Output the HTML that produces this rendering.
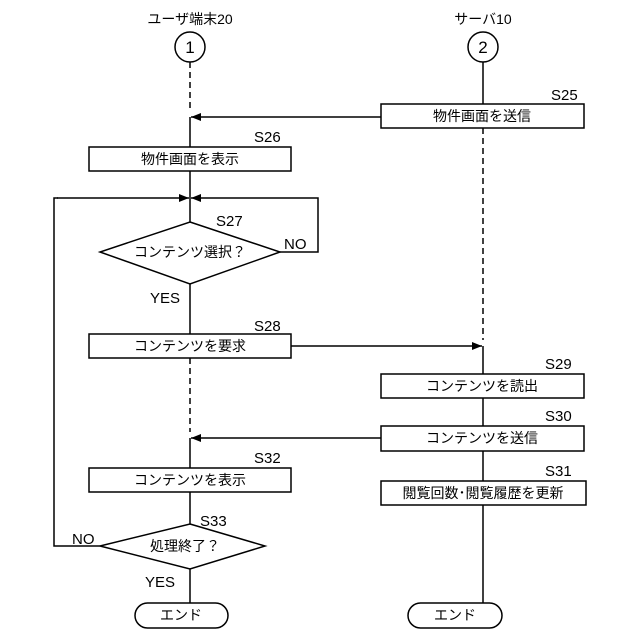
<!DOCTYPE html>
<html><head><meta charset="utf-8"><style>body{margin:0;background:#fff}svg{display:block}text{font-family:"Liberation Sans","Noto Sans CJK JP",sans-serif;fill:#000}</style></head><body>
<svg width="640" height="640" viewBox="0 0 640 640" xmlns="http://www.w3.org/2000/svg">
<defs><marker id="a" markerWidth="10" markerHeight="8" refX="10" refY="4" orient="auto" markerUnits="userSpaceOnUse"><path d="M0,0 L10,4 L0,8 z" fill="#000"/></marker></defs>
<g stroke="#000" stroke-width="1.5" fill="none">
<circle cx="190" cy="47" r="15"/><circle cx="483" cy="47" r="15"/>
<line x1="190" y1="62" x2="190" y2="112" stroke-dasharray="6,4"/>
<line x1="190" y1="117" x2="190" y2="147"/>
<line x1="483" y1="62" x2="483" y2="104"/>
<line x1="483" y1="128" x2="483" y2="340" stroke-dasharray="6,4"/>
<line x1="381" y1="117" x2="191" y2="117" marker-end="url(#a)"/>
<rect x="381" y="104" width="203" height="24" fill="#fff"/>
<rect x="89" y="147" width="202" height="24" fill="#fff"/>
<line x1="190" y1="171" x2="190" y2="222"/>
<line x1="57" y1="198" x2="189" y2="198" marker-end="url(#a)"/>
<polyline points="280,252 318,252 318,198 191,198" marker-end="url(#a)"/>
<polygon points="190,222 280,252 190,284 100,252" fill="#fff"/>
<line x1="190" y1="284" x2="190" y2="334"/>
<rect x="89" y="334" width="202" height="24" fill="#fff"/>
<line x1="291" y1="346" x2="482" y2="346" marker-end="url(#a)"/>
<line x1="483" y1="346" x2="483" y2="374"/>
<line x1="190" y1="358" x2="190" y2="432" stroke-dasharray="6,4"/>
<rect x="381" y="374" width="203" height="24" fill="#fff"/>
<line x1="483" y1="398" x2="483" y2="426"/>
<rect x="381" y="426" width="203" height="25" fill="#fff"/>
<line x1="381" y1="438" x2="191" y2="438" marker-end="url(#a)"/>
<line x1="190" y1="438" x2="190" y2="468"/>
<line x1="483" y1="451" x2="483" y2="481"/>
<rect x="381" y="481" width="205" height="24" fill="#fff"/>
<line x1="483" y1="505" x2="483" y2="603"/>
<rect x="89" y="468" width="202" height="24" fill="#fff"/>
<line x1="190" y1="492" x2="190" y2="524"/>
<polyline points="100,546 54,546 54,198 58,198"/>
<polygon points="190,524 265,546 190,569 100,546" fill="#fff"/>
<line x1="190" y1="569" x2="190" y2="603"/>
<rect x="135" y="603" width="93" height="25" rx="12.5" fill="#fff"/>
<rect x="408" y="603" width="94" height="25" rx="12.5" fill="#fff"/>
</g>
<g font-size="14" text-anchor="middle">
<text x="190" y="24">ユーザ端末20</text>
<text x="483" y="24">サーバ10</text>
<text x="190" y="53" font-size="17">1</text>
<text x="483" y="53" font-size="17">2</text>
<text x="482" y="121">物件画面を送信</text>
<text x="190" y="164">物件画面を表示</text>
<text x="190" y="257">コンテンツ選択？</text>
<text x="190" y="351">コンテンツを要求</text>
<text x="482" y="391">コンテンツを読出</text>
<text x="482" y="443">コンテンツを送信</text>
<text x="483" y="498">閲覧回数･閲覧履歴を更新</text>
<text x="190" y="485">コンテンツを表示</text>
<text x="185" y="551">処理終了？</text>
<text x="181" y="620">エンド</text>
<text x="455" y="620">エンド</text>
</g>
<g font-size="15">
<text x="551" y="100">S25</text>
<text x="254" y="142">S26</text>
<text x="216" y="226">S27</text>
<text x="284" y="249">NO</text>
<text x="150" y="303">YES</text>
<text x="254" y="331">S28</text>
<text x="545" y="369">S29</text>
<text x="545" y="421">S30</text>
<text x="545" y="476">S31</text>
<text x="254" y="463">S32</text>
<text x="200" y="526">S33</text>
<text x="72" y="544">NO</text>
<text x="145" y="587">YES</text>
</g>
</svg>
</body></html>
